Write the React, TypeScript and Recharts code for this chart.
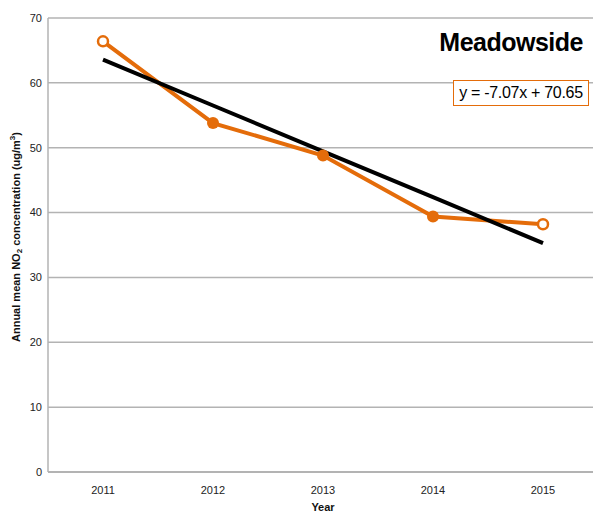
import React from 'react'
import { LineChart, Line, XAxis, YAxis, CartesianGrid, Label } from 'recharts'

const years = ['2011', '2012', '2013', '2014', '2015']
const no2 = [66.4, 53.8, 48.8, 39.4, 38.2]
const trend = [63.58, 56.51, 49.44, 42.37, 35.3]
const yTicks = [0, 10, 20, 30, 40, 50, 60, 70]

const ORANGE = '#E46C0A'
const GRID = '#b3b3b3'
const FONT = '"Liberation Sans", Arial, sans-serif'

const data = years.map((year, i) => ({ year, no2: no2[i], trend: trend[i] }))

function NO2Dot(props: any) {
  const { cx, cy, index } = props
  const open = index === 0 || index === years.length - 1
  if (open) {
    return <circle cx={cx} cy={cy} r={5} fill="#fff" stroke={ORANGE} strokeWidth={2.5} />
  }
  return <circle cx={cx} cy={cy} r={6} fill={ORANGE} stroke="none" />
}

function YLabel(props: any) {
  const { viewBox } = props
  const cx = 16
  const cy = viewBox.y + viewBox.height / 2 - 8
  return (
    <text
      x={cx}
      y={cy}
      transform={`rotate(-90, ${cx}, ${cy})`}
      textAnchor="middle"
      dominantBaseline="central"
      fontFamily={FONT}
      fontSize={11}
      fontWeight="bold"
      fill="#111"
    >
      Annual mean NO
      <tspan fontSize={8} dy={3}>2</tspan>
      <tspan dy={-3}> concentration (ug/m</tspan>
      <tspan fontSize={8} dy={-4}>3</tspan>
      <tspan dy={4}>)</tspan>
    </text>
  )
}

export default function App() {
  return (
    <div style={{ position: 'absolute', left: 0, top: 0, width: 593, height: 513, overflow: 'hidden', background: '#fff' }}>
      <LineChart width={600} height={513} data={data} margin={{ top: 18, right: 2, bottom: 0, left: 0 }}>
        <CartesianGrid vertical={false} stroke={GRID} strokeWidth={1.5} />
        <XAxis
          dataKey="year"
          height={41}
          padding={{ left: 55, right: 55 }}
          tickLine={false}
          axisLine={{ stroke: GRID, strokeWidth: 2 }}
          tick={{ fontSize: 11, fill: '#222', fontFamily: FONT }}
          tickMargin={8}
        >
          <Label value="Year" position="insideBottom" offset={2} style={{ fontSize: 11, fontWeight: 'bold', fill: '#111', fontFamily: FONT }} />
        </XAxis>
        <YAxis
          width={48}
          domain={[0, 70]}
          ticks={yTicks}
          tickLine={false}
          axisLine={{ stroke: GRID, strokeWidth: 1.5 }}
          tick={{ fontSize: 11, fill: '#222', fontFamily: FONT }}
          tickSize={4}
        >
          <Label content={<YLabel />} />
        </YAxis>
        <Line
          dataKey="no2"
          stroke={ORANGE}
          strokeWidth={4}
          dot={<NO2Dot />}
          activeDot={false}
          isAnimationActive={false}
        />
        <Line
          dataKey="trend"
          stroke="#000"
          strokeWidth={4}
          dot={false}
          activeDot={false}
          isAnimationActive={false}
        />
      </LineChart>
      <div style={{ position: 'absolute', left: 400, top: 28, width: 183, textAlign: 'right', fontFamily: FONT, fontSize: 25, fontWeight: 'bold', color: '#000', letterSpacing: -0.5 }}>
        Meadowside
      </div>
      <div style={{ position: 'absolute', left: 453, top: 80, width: 134, height: 24, border: `1.5px solid ${ORANGE}`, background: '#fff', fontFamily: FONT, fontSize: 16, lineHeight: '24px', textAlign: 'center', color: '#000', letterSpacing: -0.3 }}>
        y = -7.07x + 70.65
      </div>
    </div>
  )
}
